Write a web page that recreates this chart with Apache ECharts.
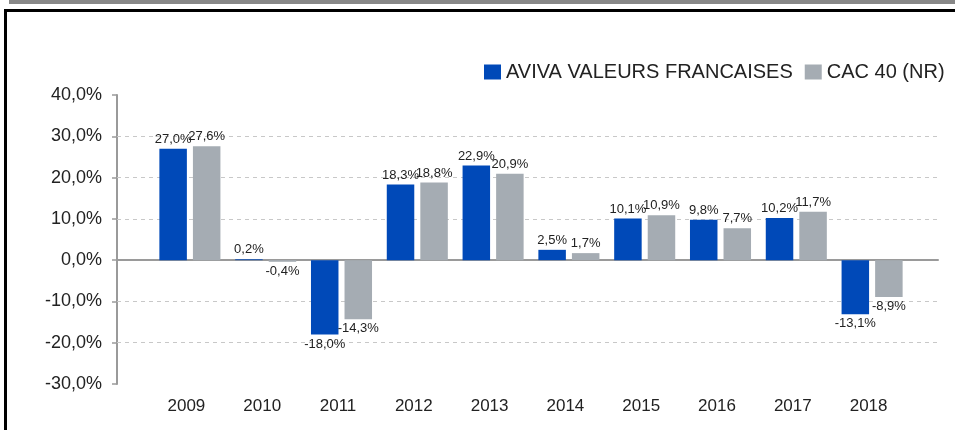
<!DOCTYPE html>
<html>
<head>
<meta charset="utf-8">
<script src="https://cdn.jsdelivr.net/npm/echarts@6/dist/echarts.min.js"></script>
<style>
  html, body { margin: 0; padding: 0; background: #fff; overflow: hidden; }
  #main { width: 955px; height: 430px; }
</style>
</head>
<body>
<div id="main"></div>
<script>
let myChart = echarts.init(document.getElementById('main'))

const years = ['2009', '2010', '2011', '2012', '2013', '2014', '2015', '2016', '2017', '2018']
const avivaValues = [27.0, 0.2, -18.0, 18.3, 22.9, 2.5, 10.1, 9.8, 10.2, -13.1]
const cacValues = [27.6, -0.4, -14.3, 18.8, 20.9, 1.7, 10.9, 7.7, 11.7, -8.9]
const gridLevels = [30, 20, 10, -10, -20]
const seriesNames = ['AVIVA VALEURS FRANCAISES', 'CAC 40 (NR)']

const colorConfig = {
    aviva: '#0049B8',
    cac: '#A5ACB3',
    text: '#222',
    axis: '#9a9a9a',
    grid: '#c8c8c8'
}

const fmt = v => v.toFixed(1).replace('.', ',') + '%'

// labels above positive bars, below negative ones
const withLabels = values => values.map(v => ({
    value: v,
    label: {position: v >= 0 ? 'top' : 'bottom'}
}))

const barSeries = (name, values, color) => ({
    name: name,
    type: 'bar',
    xAxisIndex: 1,
    yAxisIndex: 1,
    z: 3,
    barWidth: 27.5,
    barGap: '22%',
    itemStyle: {color: color},
    label: {
        show: true,
        distance: 3,
        color: colorConfig.text,
        fontSize: 13,
        fontFamily: 'Liberation Sans',
        formatter: p => fmt(p.value)
    },
    data: withLabels(values)
})

let option = {
    backgroundColor: '#fff',
    animation: false,
    textStyle: {fontFamily: 'Liberation Sans'},
    graphic: [
        {type: 'rect', shape: {x: 9, y: 0, width: 946, height: 4}, style: {fill: '#888'}},
        // frame: only left and top edges are inside the picture
        {type: 'polyline', shape: {points: [[5.5, 430], [5.5, 10.5], [955, 10.5]]},
            style: {fill: 'none', stroke: '#000', lineWidth: 3}}
    ],
    legend: {
        data: seriesNames,
        left: 479,
        top: 57,
        itemWidth: 17,
        itemHeight: 15,
        itemGap: 12,
        icon: 'rect',
        textStyle: {fontSize: 20, color: colorConfig.text, fontFamily: 'Liberation Sans'}
    },
    grid: [
        {left: 117, right: 17, top: 95, bottom: 46},
        {left: 152, right: 45, top: 95, bottom: 46}
    ],
    xAxis: [
        {
            gridIndex: 0,
            type: 'value',
            min: 0,
            max: 1,
            axisLine: {show: true, onZero: true, lineStyle: {color: colorConfig.axis, width: 2}},
            axisTick: {show: false},
            axisLabel: {show: false},
            splitLine: {show: false}
        },
        {
            gridIndex: 1,
            type: 'category',
            data: years,
            axisLine: {show: false, onZero: false},
            axisTick: {show: false},
            axisLabel: {
                fontSize: 17,
                color: colorConfig.text,
                margin: 14,
                padding: [0, 7, 0, 0]
            }
        }
    ],
    yAxis: [
        {
            gridIndex: 0,
            type: 'value',
            min: -30,
            max: 40,
            interval: 10,
            axisLine: {show: true, lineStyle: {color: colorConfig.axis, width: 2}},
            axisTick: {show: true, length: 5, lineStyle: {color: colorConfig.axis, width: 1.5}},
            axisLabel: {
                fontSize: 18,
                color: colorConfig.text,
                margin: 15,
                formatter: v => fmt(v)
            },
            splitLine: {show: false}
        },
        {
            gridIndex: 1,
            type: 'value',
            min: -30,
            max: 40,
            interval: 10,
            show: false,
            splitLine: {show: false}
        }
    ],
    series: [
        {
            type: 'line',
            xAxisIndex: 0,
            yAxisIndex: 0,
            data: [],
            silent: true,
            z: 1,
            markLine: {
                silent: true,
                z: 1,
                symbol: 'none',
                label: {show: false},
                lineStyle: {type: [4, 4], color: colorConfig.grid, width: 1},
                data: gridLevels.map(v => ({yAxis: v}))
            }
        },
        barSeries(seriesNames[0], avivaValues, colorConfig.aviva),
        barSeries(seriesNames[1], cacValues, colorConfig.cac)
    ]
}

myChart.setOption(option)
</script>
</body>
</html>
